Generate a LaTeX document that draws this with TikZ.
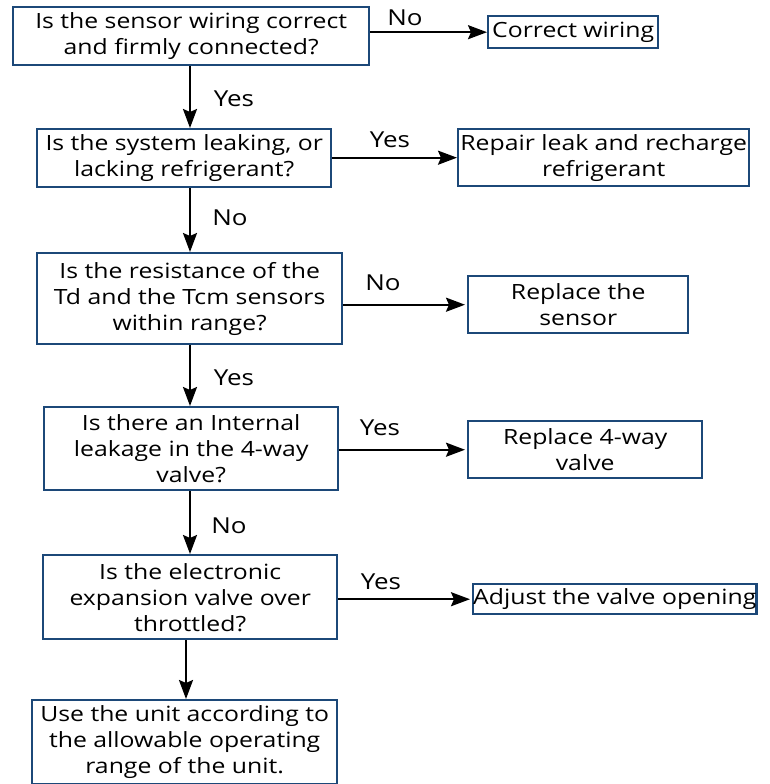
\documentclass[tikz,border=0pt]{standalone}
\usepackage{fontspec}
\setmainfont[FakeStretch=1.18]{Open Sans}
\usetikzlibrary{arrows.meta}
\definecolor{boxblue}{RGB}{28,72,120}
\tikzset{
  bx/.style={draw=boxblue, line width=2.4pt, fill=white, align=center, inner sep=0pt,
    font=\fontsize{21}{26}\selectfont, anchor=north west},
  arr/.style={line width=2.2pt, -{Stealth[length=19pt,width=14pt,inset=3pt]}},
  lbl/.style={font=\fontsize{22}{24}\selectfont, inner sep=0pt}
}
\begin{document}
\begin{tikzpicture}[x=1pt,y=-1pt]
\useasboundingbox (0,0) rectangle (770,784);
\node[bx, minimum width=356pt, minimum height=58pt] (q1) at (12,6) {Is the sensor wiring correct\\and firmly connected?};
\node[bx, minimum width=170pt, minimum height=32pt] (cw) at (487,15) {Correct wiring};
\node[bx, minimum width=294pt, minimum height=58pt] (q2) at (36,128) {Is the system leaking, or\\lacking refrigerant?};
\node[bx, minimum width=291pt, minimum height=57pt] (rl) at (457,128) {Repair leak and recharge\\refrigerant};
\node[bx, minimum width=305pt, minimum height=91pt] (q3) at (36,252) {Is the resistance of the\\Td and the Tcm sensors\\within range?};
\node[bx, minimum width=220pt, minimum height=57pt] (rs) at (467,275) {Replace the\\sensor};
\node[bx, minimum width=294pt, minimum height=83pt] (q4) at (43,406) {Is there an Internal\\leakage in the 4-way\\valve?};
\node[bx, minimum width=234pt, minimum height=57pt] (rv) at (467,420) {Replace 4-way\\valve};
\node[bx, minimum width=294pt, minimum height=84pt] (q5) at (42,554) {Is the electronic\\expansion valve over\\throttled?};
\node[bx, minimum width=283pt, minimum height=30pt] (ad) at (472,583) {Adjust the valve opening};
\node[bx, minimum width=305pt, minimum height=84pt] (fin) at (31,699) {Use the unit according to\\the allowable operating\\range of the unit.};

\coordinate (v1) at (190,0);
\coordinate (v2) at (186,0);

\draw[arr] (q1.south -| v1) -- (q2.north -| v1);
\draw[arr] (q2.south -| v1) -- (q3.north -| v1);
\draw[arr] (q3.south -| v1) -- (q4.north -| v1);
\draw[arr] (q4.south -| v1) -- (q5.north -| v1);
\draw[arr] (q5.south -| v2) -- (fin.north -| v2);

\draw[arr] (q1.east |- cw.west) -- (cw.west);
\draw[arr] (q2.east |- rl.west) -- (rl.west);
\draw[arr] (q3.east |- rs.west) -- ([xshift=-2pt]rs.west);
\draw[arr] (q4.east |- rv.west) -- ([xshift=-2pt]rv.west);
\draw[arr] (q5.east |- ad.west) -- ([xshift=-2pt]ad.west);

\node[lbl] (l1) at (405,18) {No};
\node[lbl] (l2) at (234,99) {Yes};
\node[lbl] (l3) at (390,140) {Yes};
\node[lbl] (l4) at (230,218) {No};
\node[lbl] (l5) at (383,283) {No};
\node[lbl] (l6) at (234,378) {Yes};
\node[lbl] (l7) at (380,428) {Yes};
\node[lbl] (l8) at (229,526) {No};
\node[lbl] (l9) at (381,582) {Yes};
\end{tikzpicture}
\end{document}
